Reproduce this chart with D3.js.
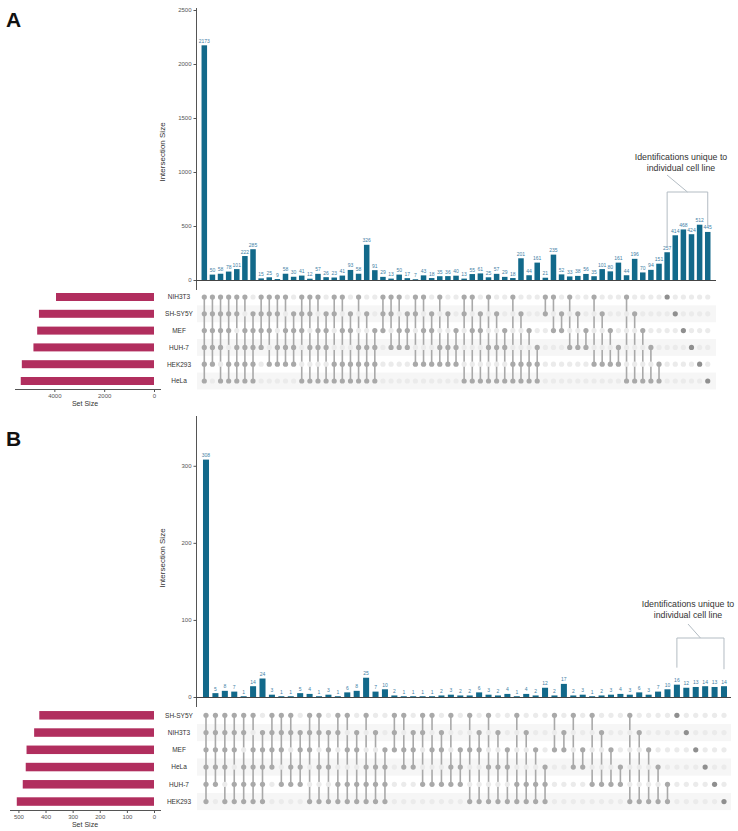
<!DOCTYPE html>
<html><head><meta charset="utf-8">
<script src="https://cdn.jsdelivr.net/npm/d3@7"></script>
<style>
body{margin:0;background:#fff}
svg{display:block;font-family:"Liberation Sans",Arial,sans-serif}
</style>
</head><body>
<svg id="chart" width="738" height="831"></svg>
<script>
// ---------- Panel A data ----------
const setsA = ["NIH3T3","SH-SY5Y","MEF","HUH-7","HEK293","HeLa"];
// each combination: digits are indexes into setsA
const combosA = [
  "012345",
  "01234","01235","01245","01345","02345","12345",
  "0123","0124","0134","0234","1234","0125","0135","0235","1235","0145","0245","1245","0345","1345","2345",
  "012","013","023","123","014","024","124","034","134","234","015","025","125","035","135","235","045","145","245","345",
  "01","02","12","03","13","23","04","14","24","34","05","15","25","35","45",
  "0","1","2","3","4","5"
];
const valuesA = [
  2173,
  50,58,78,101,222,285,
  15,25,9,58,30,41,12,57,26,23,41,93,58,326,91,
  29,13,50,17,7,43,18,35,36,40,13,55,61,25,57,29,18,201,44,161,
  21,235,52,33,38,56,35,101,80,161,44,196,70,94,151,
  257,414,468,424,512,445
];
const yTicksA = [0,500,1000,1500,2000,2500];
const setTicksA = [0,2000,4000];

// ---------- Panel B data ----------
const setsB = ["SH-SY5Y","NIH3T3","MEF","HeLa","HUH-7","HEK293"];
const combosB = [
  "012345",
  "01234","01235","01245","01345","02345","12345",
  "0123","0124","0134","1234","0125","0135","1235","0145","0245","1245","0345","1345","2345",
  "012","023","123","014","024","124","034","234","025","125","035","135","235","045","145","245","345",
  "02","12","03","23","04","14","24","34","05","15","25","35","45",
  "0","1","2","3","4","5"
];
const valuesB = [
  308,
  5,8,7,1,14,24,
  3,1,1,5,4,1,3,1,6,8,25,7,10,
  2,1,1,1,1,2,3,2,2,6,3,2,4,1,4,2,12,
  2,17,2,3,1,2,3,4,3,6,3,7,10,
  16,12,13,14,13,14
];
const yTicksB = [0,100,200,300];
const setTicksB = [0,100,200,300,400,500];

const annotationLines = ["Identifications unique to","individual cell line"];

// ---------- styles ----------
const BAR = "#12698a", LABEL = "#3f7fa6", SETBAR = "#b12e5e";
const DOT_ON = "#a9a9a9", DOT_SINGLE = "#8f8f8f", DOT_OFF = "#ebebeb", BAND = "#f6f6f6";
const TEXT = "#333", AXIS = "#555", BRACKET = "#b3bcc3";
const fmt = d3.format("d");

const svg = d3.select("#chart");

function drawPanel(cfg) {
  const {sets, combos, values} = cfg;
  const g = svg.append("g");
  const idx = combos.map((c,i)=>i);
  const x = d3.scaleBand().domain(idx).range(cfg.colRange)
      .paddingInner(cfg.pad).paddingOuter(cfg.pad/2);
  const cx = i => x(i) + x.bandwidth()/2;
  const y = d3.scaleLinear().domain([0, cfg.yMax]).range([cfg.yBase, cfg.yTop]);
  const rowY = d3.scalePoint().domain(sets.map((s,i)=>i)).range([cfg.row0, cfg.row0 + cfg.rowStep*(sets.length-1)]);
  const sizes = sets.map((s,si)=> d3.sum(combos, (c,ci)=> c.includes(String(si)) ? values[ci] : 0));
  const sx = d3.scaleLinear().domain([0, cfg.setMax]).range([cfg.setX0, cfg.setXMin]);

  // panel letter
  g.append("text").attr("x", 6).attr("y", cfg.letterY).text(cfg.letter)
    .attr("font-size", 21).attr("font-weight", "bold").attr("fill", "#111");

  // row bands
  g.selectAll(".band").data(sets.map((s,i)=>i).filter(i=>i%2===1)).join("rect")
    .attr("x", 197).attr("width", cfg.right-197)
    .attr("y", i=>rowY(i)-cfg.rowStep/2).attr("height", cfg.rowStep)
    .attr("fill", BAND);

  // intersection bars
  g.selectAll(".bar").data(values).join("rect")
    .attr("x", (v,i)=>x(i)).attr("width", x.bandwidth())
    .attr("y", v=>y(v)).attr("height", v=>cfg.yBase-y(v)).attr("fill", BAR);
  g.selectAll(".vl").data(values).join("text")
    .attr("x", (v,i)=>cx(i)).attr("y", v=>y(v)-2.5)
    .attr("text-anchor","middle").attr("font-size", 5).attr("fill", LABEL).text(v=>v);

  // y axis
  const ay = g.append("g").attr("transform", `translate(196.5,0)`)
    .call(d3.axisLeft(y).tickValues(cfg.yTicks).tickFormat(fmt).tickSize(3).tickPadding(2).tickSizeOuter(0));
  ay.select(".domain").remove();
  ay.selectAll("line").attr("stroke", AXIS);
  ay.selectAll("text").attr("font-size", 6).attr("fill", "#555").attr("font-family", "Liberation Sans, Arial, sans-serif");
  g.append("line").attr("x1",196.5).attr("x2",196.5).attr("y1", cfg.yTop-2).attr("y2", cfg.yBase+10)
    .attr("stroke", AXIS).attr("stroke-width", 1);
  g.append("line").attr("x1",196).attr("x2",cfg.right).attr("y1", cfg.yBase+0.5).attr("y2", cfg.yBase+0.5)
    .attr("stroke", "#444").attr("stroke-width", 1);
  g.append("text").attr("transform", `translate(165,${cfg.titleY}) rotate(-90)`)
    .attr("text-anchor","middle").attr("font-size", 8).attr("fill", TEXT).text("Intersection Size");

  // matrix
  combos.forEach((c,ci)=>{
    const on = c.split("").map(Number);
    if (on.length > 1) {
      g.append("line").attr("x1", cx(ci)).attr("x2", cx(ci))
        .attr("y1", rowY(d3.min(on))).attr("y2", rowY(d3.max(on)))
        .attr("stroke", DOT_ON).attr("stroke-width", 1.6);
    }
    sets.forEach((s,si)=>{
      const active = on.includes(si);
      g.append("circle").attr("cx", cx(ci)).attr("cy", rowY(si)).attr("r", 2.6)
        .attr("fill", active ? (on.length===1 ? DOT_SINGLE : DOT_ON) : DOT_OFF);
    });
  });

  // set size bars
  g.selectAll(".sb").data(sizes).join("rect")
    .attr("x", v=>sx(v)).attr("width", v=>cfg.setX0-sx(v))
    .attr("y", (v,i)=>rowY(i)-cfg.setBarH/2).attr("height", cfg.setBarH).attr("fill", SETBAR);
  g.selectAll(".sl").data(sets).join("text")
    .attr("x", 179).attr("y", (s,i)=>rowY(i)+2.3).attr("text-anchor","middle")
    .attr("font-size", 6.5).attr("fill", TEXT).text(s=>s);

  const ax = g.append("g").attr("transform", `translate(0,${cfg.setAxisY})`)
    .call(d3.axisBottom(sx).tickValues(cfg.setTicks).tickFormat(fmt).tickSize(3).tickPadding(2).tickSizeOuter(0));
  ax.select(".domain").remove();
  ax.selectAll("line").attr("stroke", AXIS);
  ax.selectAll("text").attr("font-size", 6).attr("fill", "#555").attr("font-family", "Liberation Sans, Arial, sans-serif");
  g.append("line").attr("x1", cfg.setXMin).attr("x2", 161).attr("y1", cfg.setAxisY+0.5).attr("y2", cfg.setAxisY+0.5)
    .attr("stroke", AXIS);
  g.append("text").attr("x", 85).attr("y", cfg.setAxisY+17).attr("text-anchor","middle")
    .attr("font-size", 7).attr("fill", TEXT).text("Set Size");

  // annotation bracket over singletons
  const singles = combos.map((c,i)=>i).filter(i=>combos[i].length===1);
  const first = singles[0], last = singles[singles.length-1];
  const bx1 = cx(first), bx2 = cx(last), bm = (bx1+bx2)/2;
  const path = d3.path();
  path.moveTo(bx1, y(values[first]) - cfg.bracketGap);
  path.lineTo(bx1, cfg.bracketTop);
  path.lineTo(bx2, cfg.bracketTop);
  path.lineTo(bx2, y(values[last]) - cfg.bracketGap);
  path.moveTo(cfg.connX, cfg.connY);
  path.lineTo(bm, cfg.bracketTop);
  g.append("path").attr("d", path.toString()).attr("fill","none").attr("stroke", BRACKET).attr("stroke-width", 1);
  annotationLines.forEach((t,k)=>{
    g.append("text").attr("x", cfg.annX).attr("y", cfg.annY + k*11).attr("text-anchor","middle")
      .attr("font-size", 8.8).attr("fill", TEXT).text(t);
  });
}

drawPanel({
  letter:"A", letterY:27, sets:setsA, combos:combosA, values:valuesA,
  yMax:2500, yTop:10, yBase:280, yTicks:yTicksA, titleY:152,
  colRange:[200.24, 711.8], pad:0.32, right:716,
  row0:297, rowStep:16.8, setBarH:8,
  setMax:5580, setX0:154, setXMin:15, setTicks:setTicksA, setAxisY:389,
  bracketTop:192, bracketGap:6, connX:667, connY:175, annX:681, annY:160
});
drawPanel({
  letter:"B", letterY:446, sets:setsB, combos:combosB, values:valuesB,
  yMax:362, yTop:418, yBase:697, yTicks:yTicksB, titleY:558,
  colRange:[201.29, 728.7], pad:0.36, right:731,
  row0:715.3, rowStep:17.25, setBarH:8.5,
  setMax:531, setX0:154, setXMin:10, setTicks:setTicksB, setAxisY:810,
  bracketTop:638, bracketGap:17, connX:688, connY:624, annX:688, annY:607
});
</script>
</body></html>
